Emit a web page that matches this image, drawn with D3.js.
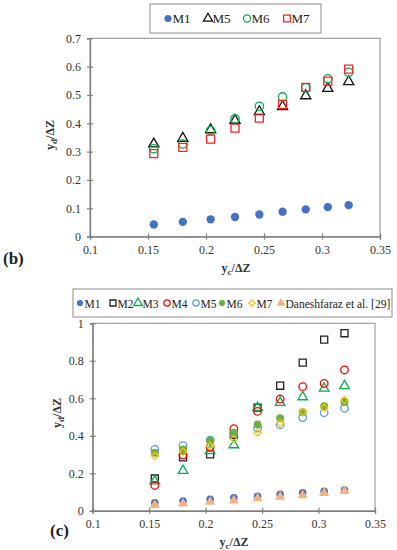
<!DOCTYPE html>
<html>
<head>
<meta charset="utf-8">
<script src="https://cdn.jsdelivr.net/npm/d3@7"></script>
<style>
  body { margin: 0; background: #fff; }
  svg, svg text { font-family: "Liberation Serif", "Times New Roman", serif !important; }
</style>
</head>
<body>
<div id="chart"></div>
<script>
// x values shared by every series
const xVals = [0.155, 0.18, 0.204, 0.225, 0.246, 0.266, 0.286, 0.305, 0.323];

// series values (y_d / dZ)
const m1 = [0.043, 0.052, 0.061, 0.069, 0.078, 0.088, 0.096, 0.104, 0.111];
const m2 = [0.172, 0.285, 0.301, 0.405, 0.55, 0.667, 0.79, 0.913, 0.947];
const m3 = [0.158, 0.214, 0.32, 0.351, 0.55, 0.577, 0.607, 0.653, 0.666];
const m4 = [0.135, 0.297, 0.34, 0.438, 0.53, 0.596, 0.662, 0.679, 0.751];
const m5 = [0.327, 0.347, 0.377, 0.41, 0.441, 0.459, 0.497, 0.523, 0.547];
const m6 = [0.31, 0.327, 0.374, 0.416, 0.46, 0.493, 0.525, 0.557, 0.58];
const m7 = [0.293, 0.315, 0.344, 0.383, 0.418, 0.467, 0.527, 0.549, 0.591];
const dan = [0.03, 0.038, 0.048, 0.055, 0.066, 0.075, 0.082, 0.095, 0.105];

// tick labels
const xTicks = [0.1, 0.15, 0.2, 0.25, 0.3, 0.35];
const yTicksB = [0, 0.1, 0.2, 0.3, 0.4, 0.5, 0.6, 0.7];
const yTicksC = [0, 0.2, 0.4, 0.6, 0.8, 1];

const svg = d3
  .select("#chart")
  .append("svg")
  .attr("width", 397)
  .attr("height", 550);

// marker shapes
const markerPath = (shape, size) => {
  if (shape === "circle") return d3.symbol(d3.symbolCircle, size)();
  if (shape === "triangle") return d3.symbol(d3.symbolTriangle, size)();
  // square and diamond (diamond = rotated square)
  return d3.symbol(d3.symbolSquare, size)();
};

const drawMarker = (g, shape, fill, stroke, size) =>
  g
    .append("path")
    .attr("d", markerPath(shape, size))
    .attr("transform", shape === "diamond" ? "rotate(45)" : null)
    .attr("fill", fill)
    .attr("stroke", stroke)
    .attr("stroke-width", 1.3);

// axis title with a subscript letter
const axisTitle = (g, sub) => {
  const t = g
    .append("text")
    .attr("font-weight", "bold")
    .attr("font-size", 12)
    .attr("fill", "#333")
    .attr("text-anchor", "middle");
  t.append("tspan").text("y");
  t.append("tspan").text(sub).attr("font-size", 9).attr("dy", 3);
  t.append("tspan").text("/ΔZ").attr("dy", -3);
  return t;
};

const drawPanel = p => {
  const x = d3.scaleLinear().domain([0.1, 0.35]).range([p.left, p.right]);
  const y = d3.scaleLinear().domain([0, p.yMax]).range([p.bottom, p.top]);
  const g = svg.append("g");

  // frame
  g.append("rect")
    .attr("x", p.left)
    .attr("y", p.top)
    .attr("width", p.right - p.left)
    .attr("height", p.bottom - p.top)
    .attr("fill", "none")
    .attr("stroke", "#8c8c8c")
    .attr("stroke-width", 1);

  // axes, ticks cross the line
  const yAxis = g
    .append("g")
    .attr("transform", `translate(${p.left},0)`)
    .call(d3.axisLeft(y).tickValues(p.yTicks).tickSize(3).tickPadding(6).tickFormat(d3.format("")));
  const xAxis = g
    .append("g")
    .attr("transform", `translate(0,${p.bottom})`)
    .call(d3.axisBottom(x).tickValues(xTicks).tickSize(3).tickPadding(6).tickFormat(d3.format("")));
  yAxis.selectAll(".tick line").attr("x1", 3);
  xAxis.selectAll(".tick line").attr("y1", -3);
  [yAxis, xAxis].forEach(a => {
    a.attr("font-family", null);
    a.select(".domain").attr("stroke", "#7f7f7f").attr("stroke-width", 1.3);
    a.selectAll(".tick line").attr("stroke", "#7f7f7f").attr("stroke-width", 1.2);
    a.selectAll(".tick text").attr("font-size", 12).attr("fill", "#333");
  });

  // points
  p.series.forEach(s => {
    s.values.forEach((v, i) => {
      const m = g.append("g").attr("transform", `translate(${x(xVals[i])},${y(v)})`);
      drawMarker(m, s.shape, s.fill, s.stroke, s.size);
    });
  });

  // titles
  axisTitle(g, "c").attr("x", p.xTitleX).attr("y", p.xTitleY);
  axisTitle(g, "d").attr("transform", `translate(${p.yTitleX},${p.yTitleY}) rotate(-90)`);
  g.append("text")
    .attr("x", p.labelX)
    .attr("y", p.labelY)
    .attr("font-weight", "bold")
    .attr("font-size", 17)
    .attr("fill", "#222")
    .text(p.label);

  // legend
  const lg = g.append("g");
  lg.append("rect")
    .attr("x", p.legend.x)
    .attr("y", p.legend.y)
    .attr("width", p.legend.w)
    .attr("height", p.legend.h)
    .attr("fill", "#fff")
    .attr("stroke", "#8c8c8c");
  p.series.forEach((s, i) => {
    const cx = p.legend.items[i];
    const cy = p.legend.y + p.legend.h / 2;
    const m = lg.append("g").attr("transform", `translate(${cx},${cy})`);
    drawMarker(m, s.shape, s.fill, s.stroke, s.legendSize);
    lg.append("text")
      .attr("x", cx + 4.5)
      .attr("y", cy + 4.5)
      .attr("font-size", p.legend.font)
      .attr("fill", "#222")
      .text(s.name);
  });
};

// panel (b)
drawPanel({
  left: 90, right: 380, top: 38.3, bottom: 236.6, yMax: 0.7,
  yTicks: yTicksB,
  xTitleX: 236, xTitleY: 272,
  yTitleX: 54, yTitleY: 135,
  label: "(b)", labelX: 3, labelY: 264,
  legend: { x: 150, y: 4, w: 171, h: 29, font: 13, items: [168, 208, 247, 287] },
  series: [
    { name: "M1", values: m1, shape: "circle", fill: "#4472c4", stroke: "none", size: 55, legendSize: 40 },
    { name: "M5", values: m5, shape: "triangle", fill: "none", stroke: "#111", size: 45, legendSize: 36 },
    { name: "M6", values: m6, shape: "circle", fill: "none", stroke: "#00b050", size: 55, legendSize: 40 },
    { name: "M7", values: m7, shape: "square", fill: "none", stroke: "#ff2020", size: 64, legendSize: 45 }
  ]
});

// panel (c)
drawPanel({
  left: 92.7, right: 375, top: 323.3, bottom: 510.8, yMax: 1,
  yTicks: yTicksC,
  xTitleX: 234, xTitleY: 546,
  yTitleX: 61, yTitleY: 413,
  label: "(c)", labelX: 50, labelY: 536,
  legend: { x: 73, y: 289, w: 319, h: 28, font: 11.5, items: [80, 113, 138, 167, 196, 222, 252, 281] },
  series: [
    { name: "M1", values: m1, shape: "circle", fill: "#4472c4", stroke: "none", size: 45, legendSize: 30 },
    { name: "M2", values: m2, shape: "square", fill: "none", stroke: "#222", size: 50, legendSize: 36 },
    { name: "M3", values: m3, shape: "triangle", fill: "none", stroke: "#00b050", size: 40, legendSize: 32 },
    { name: "M4", values: m4, shape: "circle", fill: "none", stroke: "#ff0000", size: 45, legendSize: 32 },
    { name: "M5", values: m5, shape: "circle", fill: "none", stroke: "#5b9bd5", size: 45, legendSize: 32 },
    { name: "M6", values: m6, shape: "circle", fill: "#70ad47", stroke: "none", size: 50, legendSize: 30 },
    { name: "M7", values: m7, shape: "diamond", fill: "none", stroke: "#ffc000", size: 26, legendSize: 20 },
    { name: "Daneshfaraz et al. [29]", values: dan, shape: "triangle", fill: "#f4b183", stroke: "none", size: 45, legendSize: 36 }
  ]
});
</script>
</body>
</html>
